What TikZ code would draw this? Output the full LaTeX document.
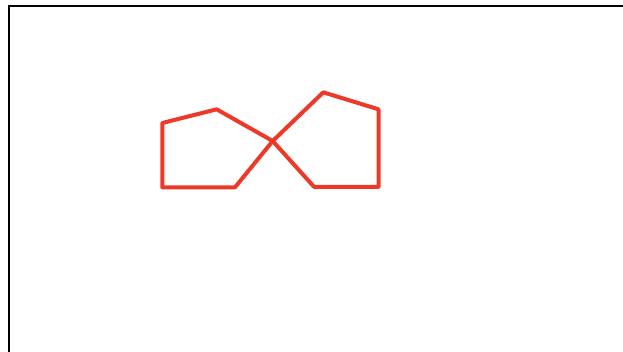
\documentclass[tikz,border=0pt]{standalone}
\definecolor{penred}{RGB}{238,57,40}
\begin{document}
\begin{tikzpicture}[x=1pt,y=-1pt,
  frameline/.style={line width=2pt,draw=black},
  redpoly/.style={line width=4pt,draw=penred,line join=round,line cap=round}]
\useasboundingbox (0,0) rectangle (623,351);
\coordinate (fTR) at (624,6);
\coordinate (fTL) at (9,6);
\coordinate (fBL) at (9,352);
\draw[frameline] (fTR) -- (fTL) -- (fBL);
\coordinate (c) at (272.7,141);
\coordinate (l1) at (216.7,109.3);
\coordinate (l2) at (162.3,123);
\coordinate (l3) at (162.3,187.3);
\coordinate (l4) at (235,187.3);
\coordinate (r1) at (323.3,92.3);
\coordinate (r2) at (378.5,109.3);
\coordinate (r3) at (378.5,186.8);
\coordinate (r4) at (314,186.8);
\draw[redpoly] (c) -- (l1) -- (l2) -- (l3) -- (l4) -- cycle;
\draw[redpoly] (c) -- (r1) -- (r2) -- (r3) -- (r4) -- cycle;
\end{tikzpicture}
\end{document}
